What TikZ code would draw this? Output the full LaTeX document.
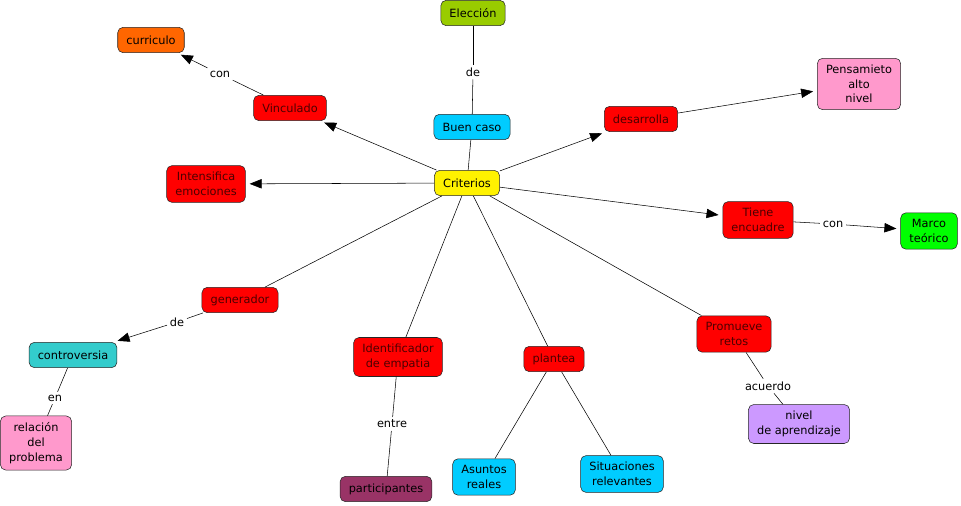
\documentclass[tikz,border=0pt]{standalone}
\usepackage{fontspec}
\setmainfont{DejaVu Sans}
\usetikzlibrary{arrows.meta,positioning}
\definecolor{verdeoliva}{RGB}{153,204,0}
\definecolor{celeste}{RGB}{0,204,255}
\definecolor{rosa}{RGB}{255,153,204}
\definecolor{naranja}{RGB}{255,102,0}
\definecolor{turquesa}{RGB}{51,204,204}
\definecolor{vino}{RGB}{153,51,102}
\definecolor{lila}{RGB}{204,153,255}

\begin{document}
\begin{tikzpicture}[x=0.75pt,y=-0.75pt,>={Triangle[length=9pt,width=7pt]},
  every node/.style={font=\fontsize{8.5}{11}\selectfont,align=center},
  concepto/.style={draw=black!85,rounded corners=4pt,inner xsep=6.5pt,inner ysep=5pt,minimum height=19pt},
  rojo/.style={concepto,fill=red,text=black!70!red},
  enlace/.style={fill=white,inner sep=2pt}]
  \useasboundingbox (0,0) rectangle (961,506);

  \node[concepto,fill=yellow]      (crit) at (467,183) {Criterios};
  \node[concepto,fill=celeste]     (buen) at (472,127) {Buen caso};
  \node[concepto,fill=verdeoliva]  (elec) at (473,13)  {Elección};
  \node[rojo]                      (desa) at (641,119) {desarrolla};
  \node[concepto,fill=rosa]        (pens) at (859,84)  {Pensamieto\\alto\\nivel};
  \node[rojo]                      (tien) at (758,220) {Tiene\\encuadre};
  \node[concepto,fill=green]       (marc) at (929,231) {Marco\\teórico};
  \node[rojo]                      (vinc) at (290,108) {Vinculado};
  \node[concepto,fill=naranja]     (curr) at (151,40)  {curriculo};
  \node[rojo]                      (inte) at (206,184) {Intensifica\\emociones};
  \node[rojo]                      (gene) at (240,300) {generador};
  \node[concepto,fill=turquesa]    (cont) at (73,355)  {controversia};
  \node[concepto,fill=rosa]        (rela) at (36,443)  {relación\\del\\problema};
  \node[rojo]                      (iden) at (398,357) {Identificador\\de empatia};
  \node[concepto,fill=vino]        (part) at (386,489) {participantes};
  \node[rojo]                      (plan) at (554,359) {plantea};
  \node[concepto,fill=celeste]     (asun) at (484,477) {Asuntos\\reales};
  \node[concepto,fill=celeste]     (situ) at (622,474) {Situaciones\\relevantes};
  \node[rojo]                      (prom) at (734,334) {Promueve\\retos};
  \node[concepto,fill=lila]        (nive) at (799,424) {nivel\\de aprendizaje};

  % frases de enlace
  \node[enlace] (de1)  at (473,72)  {de};
  \node[enlace] (con1) at (220,74)  {con};
  \node[enlace] (con2) at (833,224) {con};
  \node[enlace] (de2)  at (177,322) {de};
  \node[enlace] (en)   at (55,398)  {en};
  \node[enlace] (entr) at (392,424) {entre};
  \node[enlace] (acue) at (768,386) {acuerdo};

\tikzset{flecha/.style={->,shorten >=3pt}}
\path (crit) edge              (buen)
      (buen) edge              (de1)
      (de1)  edge              (elec)
      (crit) edge [flecha]     (desa)
      (desa) edge [flecha]     (pens)
      (crit) edge [flecha]     (tien)
      (tien) edge              (con2)
      (con2) edge [flecha]     (marc)
      (crit) edge [flecha]     (vinc)
      (vinc) edge              (con1)
      (con1) edge [flecha]     (curr)
      (crit) edge [flecha]     (inte)
      (crit) edge              (gene)
      (gene) edge              (de2)
      (de2)  edge [flecha]     (cont)
      (cont) edge              (en)
      (en)   edge              (rela)
      (crit) edge              (iden)
      (iden) edge              (entr)
      (entr) edge              (part)
      (crit) edge              (plan)
      (plan) edge              (asun)
      (plan) edge              (situ)
      (crit) edge              (prom)
      (prom) edge              (acue)
      (acue) edge              (nive);

\end{tikzpicture}
\end{document}
